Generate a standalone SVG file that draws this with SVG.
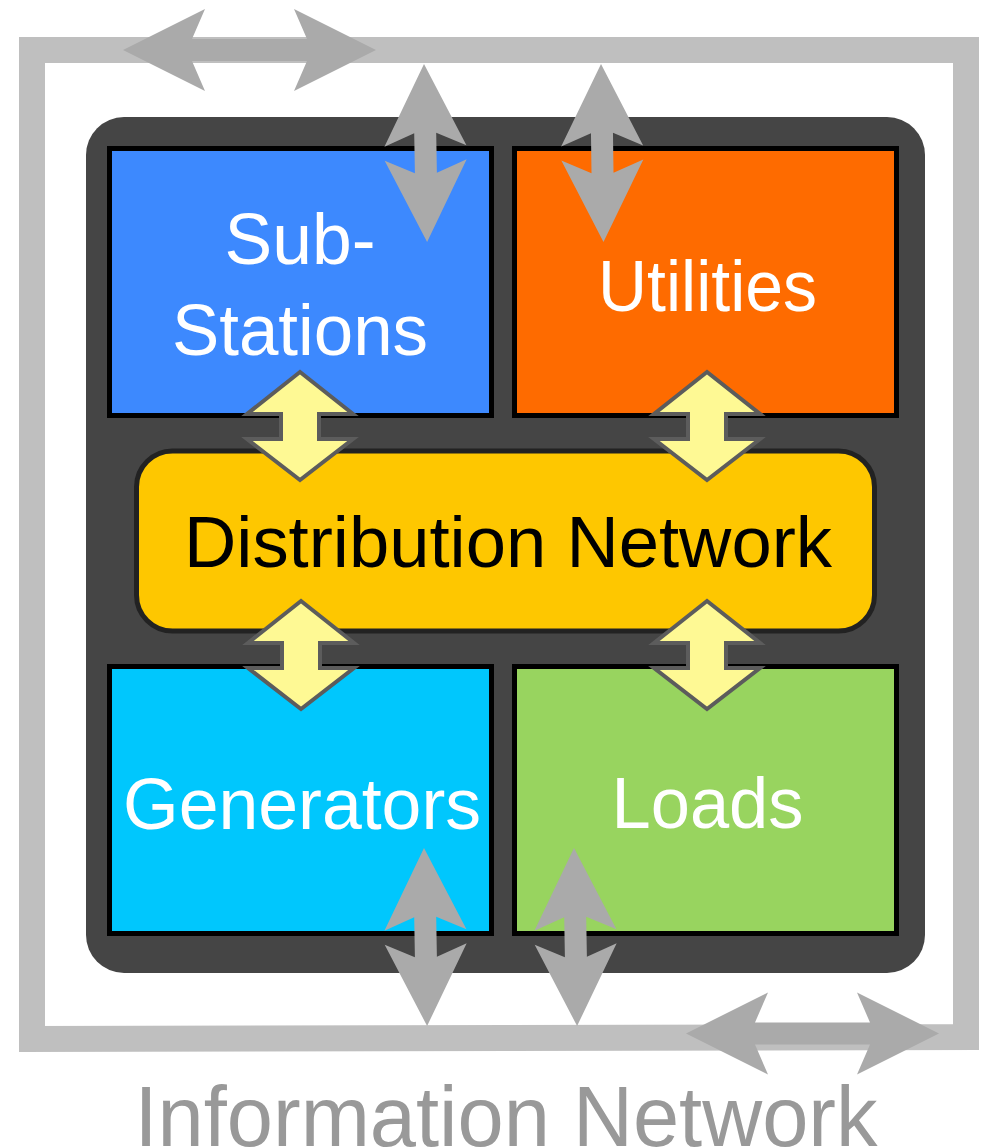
<svg xmlns="http://www.w3.org/2000/svg" xmlns:xlink="http://www.w3.org/1999/xlink" width="984" height="1148" viewBox="0 0 984 1148">
<style>
.box{stroke:#000;stroke-width:5}
.lbl{font-family:"Liberation Sans",Arial,sans-serif;font-size:72px;fill:#fff;text-anchor:middle}
.dark{fill:#000}
.info{font-family:"Liberation Sans",Arial,sans-serif;font-size:86px;fill:#999;text-anchor:middle}
.garrow{fill:#aaa}
.yarrow{fill:#fef994;stroke:#5c5c5c;stroke-width:4;stroke-linejoin:miter}
</style>
<defs>
<path id="gh" d="M0,0 L82,-41 L69,-11 L184,-11 L171,-41 L253,0 L171,41 L184,11 L69,11 L82,41 Z"/>
<path id="gv" d="M0,0 L82,-41 L69,-11 L109,-11 L96,-41 L178,0 L96,41 L109,11 L69,11 L82,41 Z"/>
<path id="ya" d="M0,0 L-53,42 L-19,42 L-19,67 L-53,67 L0,108 L53,67 L19,67 L19,42 L53,42 Z"/>
</defs>
<rect width="984" height="1148" fill="#fff"/>
<g id="information-network">
<path d="M32,50 H966 V1037 L32,1039 Z" fill="none" stroke="#bfbfbf" stroke-width="26"/>
<text class="info" x="506" y="1146" textLength="743" lengthAdjust="spacingAndGlyphs">Information Network</text>
</g>
<g id="power-grid">
<rect x="86" y="117" width="839" height="856" rx="38" fill="#454545"/>
</g>
<g id="substations">
<rect class="box" x="109.5" y="148.5" width="382" height="267" fill="#3d89fe"/>
<text class="lbl" x="300" y="264" textLength="151" lengthAdjust="spacingAndGlyphs">Sub-</text>
<text class="lbl" x="300" y="355" textLength="256" lengthAdjust="spacingAndGlyphs">Stations</text>
</g>
<g id="utilities">
<rect class="box" x="514.5" y="148.5" width="382" height="267" fill="#fe6b00"/>
<text class="lbl" x="707.5" y="311" textLength="219" lengthAdjust="spacingAndGlyphs">Utilities</text>
</g>
<g id="generators">
<rect class="box" x="109.5" y="666.5" width="382" height="267" fill="#00c7fd"/>
<text class="lbl" x="302" y="829" textLength="358" lengthAdjust="spacingAndGlyphs">Generators</text>
</g>
<g id="loads">
<rect class="box" x="514.5" y="666.5" width="382" height="267" fill="#98d45f"/>
<text class="lbl" x="707.5" y="828" textLength="192" lengthAdjust="spacingAndGlyphs">Loads</text>
</g>
<g id="distribution-network">
<rect x="136.5" y="451" width="738" height="180" rx="36" fill="#fec700" stroke="#222" stroke-width="5"/>
<text class="lbl dark" x="508" y="567" textLength="648" lengthAdjust="spacingAndGlyphs">Distribution Network</text>
</g>
<g id="connectors">
<use xlink:href="#ya" class="yarrow" transform="translate(300,372)"/>
<use xlink:href="#ya" class="yarrow" transform="translate(707,372)"/>
<use xlink:href="#ya" class="yarrow" transform="translate(301,601)"/>
<use xlink:href="#ya" class="yarrow" transform="translate(707,601)"/>
<use xlink:href="#gh" class="garrow" transform="translate(123,50)"/>
<use xlink:href="#gh" class="garrow" transform="translate(686,1033.5)"/>
<use xlink:href="#gv" class="garrow" transform="translate(424,64) rotate(89)"/>
<use xlink:href="#gv" class="garrow" transform="translate(601,64) rotate(89.2)"/>
<use xlink:href="#gv" class="garrow" transform="translate(424,848) rotate(89)"/>
<use xlink:href="#gv" class="garrow" transform="translate(574,848) rotate(89)"/>
</g>
</svg>
